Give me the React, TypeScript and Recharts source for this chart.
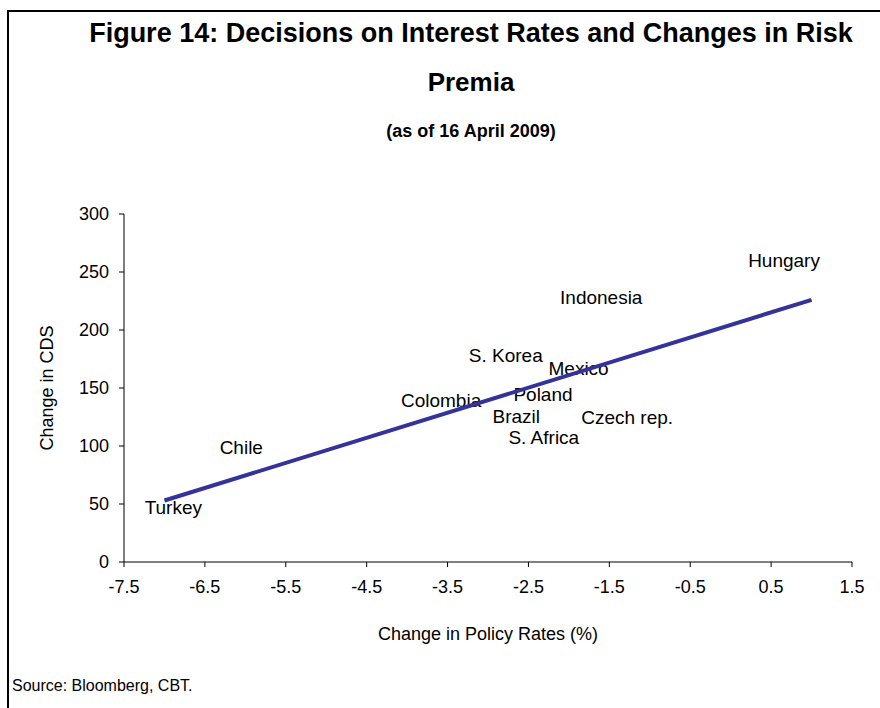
import React from "react";
import { ScatterChart, Scatter, XAxis, YAxis, ZAxis } from "recharts";

const countries = ["Turkey", "Chile", "Colombia", "S. Korea", "Mexico", "Poland", "Brazil", "Czech rep.", "S. Africa", "Indonesia", "Hungary"];
const policyChange = [-6.89, -6.05, -3.58, -2.78, -1.88, -2.32, -2.65, -1.28, -2.31, -1.6, 0.66];
const cdsChange = [46.6, 98.3, 139, 177.6, 166.4, 144.8, 125.3, 125, 106.9, 227.6, 259.7];

const trendX = [-7, 1];
const trendY = [53, 226];

const xTicks = [-7.5, -6.5, -5.5, -4.5, -3.5, -2.5, -1.5, -0.5, 0.5, 1.5];
const yTicks = [0, 50, 100, 150, 200, 250, 300];

const FONT = '"Liberation Sans", Arial, sans-serif';

const points = countries.map((name, i) => ({ name, x: policyChange[i], y: cdsChange[i] }));
const trend = trendX.map((x, i) => ({ x, y: trendY[i] }));

const LabelShape = (props: any) => {
  const { cx, cy, payload } = props;
  return (
    <text x={cx} y={cy} textAnchor="middle" dominantBaseline="central" fontSize={19} fontFamily={FONT} fill="#000">
      {payload.name}
    </text>
  );
};

export default function App() {
  return (
    <div style={{ position: "absolute", left: 0, top: 0, width: 880, height: 708, overflow: "hidden", background: "#fff", fontFamily: FONT }}>
      <div style={{ position: "absolute", left: 7, top: 10, width: 900, height: 800, border: "2px solid #000" }} />
      <div style={{ position: "absolute", left: 31, top: 18, width: 880, textAlign: "center", fontSize: 27, fontWeight: "bold", lineHeight: "30px", whiteSpace: "nowrap" }}>
        Figure 14: Decisions on Interest Rates and Changes in Risk
      </div>
      <div style={{ position: "absolute", left: 31, top: 67, width: 880, textAlign: "center", fontSize: 26, fontWeight: "bold", lineHeight: "30px" }}>
        Premia
      </div>
      <div style={{ position: "absolute", left: 31, top: 119, width: 880, textAlign: "center", fontSize: 18, fontWeight: "bold", lineHeight: "24px" }}>
        (as of 16 April 2009)
      </div>
      <div style={{ position: "absolute", left: 12, top: 676, fontSize: 16, lineHeight: "20px" }}>
        Source: Bloomberg, CBT.
      </div>
      <div style={{ position: "absolute", left: 0, top: 0 }}>
        <ScatterChart width={880} height={708} margin={{ top: 214, right: 28, bottom: 66, left: 64 }}>
          <XAxis
            type="number"
            dataKey="x"
            domain={[-7.5, 1.5]}
            ticks={xTicks}
            interval={0}
            height={80}
            stroke="#000"
            tickSize={5}
            tickMargin={13}
            tick={{ fill: "#000", fontSize: 18, fontFamily: FONT }}
            label={{ value: "Change in Policy Rates (%)", position: "insideBottom", offset: 2, fill: "#000", fontSize: 18, fontFamily: FONT }}
          />
          <YAxis
            type="number"
            dataKey="y"
            domain={[0, 300]}
            ticks={yTicks}
            interval={0}
            width={60}
            stroke="#000"
            tickSize={5}
            tickMargin={10}
            tick={{ fill: "#000", fontSize: 18, fontFamily: FONT }}
            label={{ value: "Change in CDS", angle: -90, position: "insideLeft", offset: -17, fill: "#000", fontSize: 18, fontFamily: FONT, style: { textAnchor: "middle" } }}
          />
          <ZAxis range={[10, 10]} />
          <Scatter data={points} shape={LabelShape} isAnimationActive={false} />
          <Scatter data={trend} line={{ stroke: "#333399", strokeWidth: 4 }} lineType="joint" shape={() => <g />} isAnimationActive={false} />
        </ScatterChart>
      </div>
    </div>
  );
}
